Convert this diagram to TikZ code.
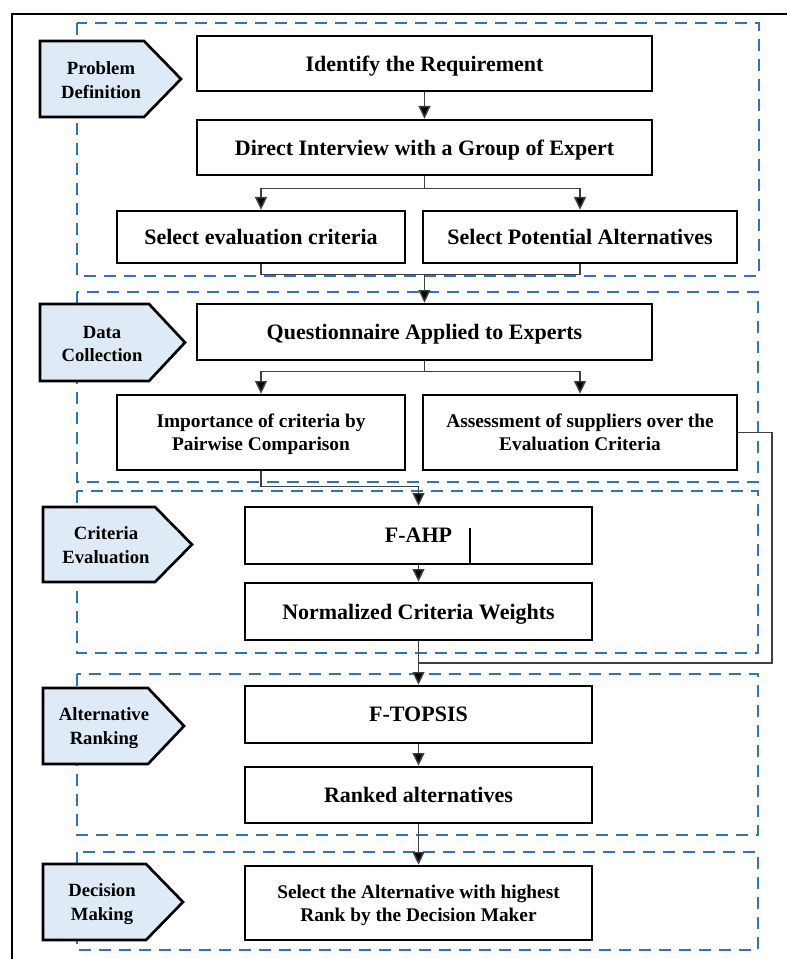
\documentclass[tikz,border=0pt]{standalone}
\usepackage{fontspec}
\setmainfont{Liberation Serif}
\usetikzlibrary{arrows.meta}

\definecolor{groupblue}{RGB}{46,117,182}
\definecolor{tagblue}{RGB}{222,235,247}

\tikzset{every picture/.style={line width=0.75pt}}
\tikzset{
  stepbox/.style={draw, line width=2pt, inner sep=0.75pt, align=center, text depth=0pt, font=\bfseries\fontsize{16.5}{19}\selectfont},
  smallbox/.style={stepbox, font=\bfseries\fontsize{14.5}{17.5}\selectfont},
  phase/.style={draw, line width=2pt, fill=tagblue, line join=miter},
  phasetext/.style={inner sep=0.75pt, align=center, font=\bfseries\fontsize{14}{17.5}\selectfont},
  group/.style={draw=groupblue, line width=2pt, dash pattern=on 9pt off 6pt},
  wire/.style={draw=black!75, line width=1.1pt},
  flow/.style={wire, -{Triangle[width=9pt,length=9.5pt,fill=black]}},
}

\begin{document}
\begin{tikzpicture}[x=0.75pt,y=0.75pt,yscale=-1,xscale=1]
\useasboundingbox (0,0) rectangle (787,959);

%Frame
\draw [line width=1.2pt] (787,14) -- (12,14) -- (12,959) ;

%Dashed groups
\draw [group] (77,23) rectangle (759,276) ;
\draw [group] (77,292) rectangle (758,482) ;
\draw [group] (77,491) rectangle (758,653) ;
\draw [group] (77,674) rectangle (758,835) ;
\draw [group] (77,852) rectangle (758,950) ;

%Shape: Phase tags
\draw [phase] (40,41) -- (144,41) -- (181,79) -- (144,117) -- (40,117) -- cycle ;
\draw [phase] (40,304) -- (149,304) -- (185,342.5) -- (149,381) -- (40,381) -- cycle ;
\draw [phase] (43,507) -- (155,507) -- (192,544.5) -- (155,582) -- (43,582) -- cycle ;
\draw [phase] (43,688) -- (148,688) -- (184,726) -- (148,764) -- (43,764) -- cycle ;
\draw [phase] (43,864) -- (146,864) -- (183,902) -- (146,940) -- (43,940) -- cycle ;

% Text Node
\node [phasetext] (tprob) at (101,80) {Problem\\Definition};
% Text Node
\node [phasetext] (tdata) at (102,344) {Data\\Collection};
% Text Node
\node [phasetext] (tcrit) at (106,545) {Criteria\\Evaluation};
% Text Node
\node [phasetext] (talt) at (104,728) {Alternative\\Ranking};
% Text Node
\node [phasetext] (tdec) at (102,904) {Decision\\Making};

%Shape: Rectangle
\node [stepbox, minimum width=341.25pt, minimum height=41.25pt] (ident) at (424.5,63.5) {Identify the Requirement};
%Shape: Rectangle
\node [stepbox, minimum width=341.25pt, minimum height=41.25pt] (interv) at (424.5,147.5) {Direct Interview with a Group of Expert};
%Shape: Rectangle
\node [stepbox, minimum width=216pt, minimum height=39pt] (selcrit) at (261,237) {Select evaluation criteria};
%Shape: Rectangle
\node [stepbox, minimum width=235.5pt, minimum height=39pt] (selalt) at (580,237) {Select Potential Alternatives};
%Shape: Rectangle
\node [stepbox, minimum width=341.25pt, minimum height=42pt] (quest) at (424.5,332) {Questionnaire Applied to Experts};
%Shape: Rectangle
\node [smallbox, minimum width=216pt, minimum height=56.25pt] (pairw) at (261,432.5) {Importance of criteria by\\Pairwise Comparison};
%Shape: Rectangle
\node [smallbox, minimum width=235.5pt, minimum height=56.25pt] (assess) at (580,432.5) {Assessment of suppliers over the\\Evaluation Criteria};
%Shape: Rectangle
\node [stepbox, minimum width=260.25pt, minimum height=42.75pt] (fahp) at (418.5,535.5) {F-AHP};
%Shape: Rectangle
\node [stepbox, minimum width=260.25pt, minimum height=42.75pt] (weights) at (418.5,611.5) {Normalized Criteria Weights};
%Shape: Rectangle
\node [stepbox, minimum width=260.25pt, minimum height=42.75pt] (ftopsis) at (418.5,714.5) {F-TOPSIS};
%Shape: Rectangle
\node [stepbox, minimum width=260.25pt, minimum height=42pt] (ranked) at (418.5,795) {Ranked alternatives};
%Shape: Rectangle
\node [smallbox, minimum width=260.25pt, minimum height=55.5pt] (decide) at (418.5,903) {Select the Alternative with highest\\Rank by the Decision Maker};

%Straight Lines
\draw [line width=2pt] (470,564) -- (470,528) ;

%Straight Lines
\draw [flow] (ident) -- (interv) ;
\draw [wire] (interv.south) -- ++(0,12) coordinate (split1) ;
\draw [flow] (split1) -| (selcrit.north) ;
\draw [flow] (split1) -| (selalt.north) ;
\draw [wire] (selcrit.south) -- ++(0,10) coordinate (join1) -| (selalt.south) ;
\draw [flow] (join1 -| quest.north) -- (quest.north) ;
\draw [wire] (quest.south) -- ++(0,10) coordinate (split2) ;
\draw [flow] (split2) -| (pairw.north) ;
\draw [flow] (split2) -| (assess.north) ;
\draw [flow] (pairw.south) -- ++(0,15) -| (fahp.north) ;
\draw [flow] (fahp) -- (weights) ;
\draw [flow] (weights) -- (ftopsis) ;
\coordinate (back) at (772,663) ;
\draw [wire] (assess.east) -| (back) -- (back -| weights.south) ;
\draw [flow] (ftopsis) -- (ranked) ;
\draw [flow] (ranked) -- (decide) ;

\end{tikzpicture}
\end{document}
